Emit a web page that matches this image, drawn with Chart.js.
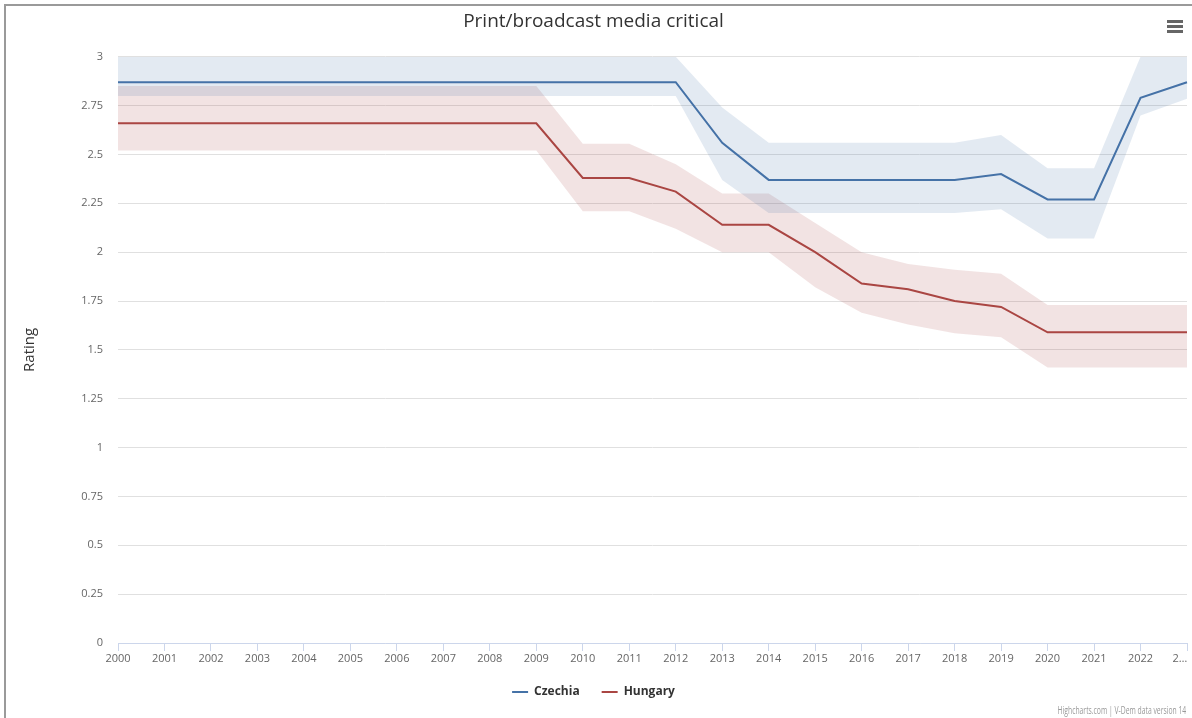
<!DOCTYPE html>
<html>
<head>
<meta charset="utf-8">
<script src="https://cdn.jsdelivr.net/npm/chart.js@4.4.1/dist/chart.umd.min.js"></script>
<style>
  html, body { margin: 0; padding: 0; background: #fff; }
  #wrap { position: relative; width: 1192px; height: 718px; overflow: hidden; font-family: "Open Sans", sans-serif; }
  #frame { position: absolute; left: 4px; top: 4px; right: -4px; bottom: -4px; border-left: 2px solid #9a9a9a; border-top: 2px solid #9a9a9a; }
  canvas { position: absolute; left: 0; top: 0; }
  #menu { position: absolute; left: 1167px; top: 20px; width: 16px; }
  #menu span { display: block; height: 3px; background: #666; margin-bottom: 2px; }
  #credits { position: absolute; right: 6px; top: 703px; font-size: 10px; color: #999; white-space: nowrap;
             transform: scaleX(0.68); transform-origin: right center; }
</style>
</head>
<body>
<div id="wrap">
  <div id="frame"></div>
  <canvas id="chart" width="1192" height="718"></canvas>
  <div id="menu"><span></span><span></span><span></span></div>
  <div id="credits">Highcharts.com | V-Dem data version 14</div>
</div>
<script>
// ---- data ----
const years = ['2000','2001','2002','2003','2004','2005','2006','2007','2008','2009','2010','2011',
               '2012','2013','2014','2015','2016','2017','2018','2019','2020','2021','2022','2023'];

const czechia     = [2.87,2.87,2.87,2.87,2.87,2.87,2.87,2.87,2.87,2.87,2.87,2.87,2.87,2.56,2.37,2.37,2.37,2.37,2.37,2.40,2.27,2.27,2.79,2.87];
const czechiaHigh = [3.00,3.00,3.00,3.00,3.00,3.00,3.00,3.00,3.00,3.00,3.00,3.00,3.00,2.74,2.56,2.56,2.56,2.56,2.56,2.60,2.43,2.43,3.00,3.00];
const czechiaLow  = [2.80,2.80,2.80,2.80,2.80,2.80,2.80,2.80,2.80,2.80,2.80,2.80,2.80,2.37,2.20,2.20,2.20,2.20,2.20,2.22,2.07,2.07,2.70,2.785];

const hungary     = [2.66,2.66,2.66,2.66,2.66,2.66,2.66,2.66,2.66,2.66,2.38,2.38,2.31,2.14,2.14,2.00,1.84,1.81,1.75,1.72,1.59,1.59,1.59,1.59];
const hungaryHigh = [2.85,2.85,2.85,2.85,2.85,2.85,2.85,2.85,2.85,2.85,2.555,2.555,2.45,2.30,2.30,2.15,2.00,1.94,1.91,1.89,1.73,1.73,1.73,1.73];
const hungaryLow  = [2.52,2.52,2.52,2.52,2.52,2.52,2.52,2.52,2.52,2.52,2.21,2.21,2.12,2.00,2.00,1.82,1.69,1.63,1.585,1.565,1.41,1.41,1.41,1.41];

const FONT = '"Open Sans", sans-serif';
const BLUE = '#4572A7', RED = '#AA4643';
const BLUE_BAND = 'rgba(69,114,167,0.15)', RED_BAND = 'rgba(170,70,67,0.15)';

function lineSet(label, data, color) {
  return { label, data, borderColor: color, backgroundColor: color, borderWidth: 2,
           pointRadius: 0, pointHoverRadius: 0, tension: 0, fill: false, order: 0 };
}
function bandSet(label, data, fill, color) {
  return { label, data, borderWidth: 0, borderColor: 'transparent', backgroundColor: color,
           pointRadius: 0, pointHoverRadius: 0, tension: 0, fill, order: 1 };
}

new Chart(document.getElementById('chart'), {
  type: 'line',
  data: {
    labels: years,
    datasets: [
      lineSet('Czechia', czechia, BLUE),
      lineSet('Hungary', hungary, RED),
      bandSet('cz-high', czechiaHigh, '+1', BLUE_BAND),
      bandSet('cz-low', czechiaLow, false, BLUE_BAND),
      bandSet('hu-high', hungaryHigh, '+1', RED_BAND),
      bandSet('hu-low', hungaryLow, false, RED_BAND)
    ]
  },
  options: {
    responsive: false,
    animation: false,
    layout: { padding: { left: 0, right: 5, top: 0, bottom: 10 } },
    plugins: {
      title: {
        display: true, text: 'Print/broadcast media critical', color: '#333',
        font: { family: FONT, size: 19, weight: 'normal' },
        padding: { top: 10, bottom: 24 }
      },
      legend: {
        position: 'bottom',
        labels: {
          filter: item => item.datasetIndex < 2,
          usePointStyle: true, pointStyle: 'line', pointStyleWidth: 16,
          color: '#333', font: { family: FONT, size: 12, weight: 'bold' }, padding: 22
        }
      },
      tooltip: { enabled: false }
    },
    scales: {
      x: {
        offset: false,
        grid: { display: true, drawOnChartArea: false, drawTicks: true, tickLength: 8, color: '#ccd6eb' },
        border: { display: true, color: '#ccd6eb', width: 1 },
        ticks: {
          autoSkip: false, maxRotation: 0, padding: 1, color: '#666',
          font: { family: FONT, size: 11 },
          // last label is truncated in the original; trailing spaces pull it inside the canvas
          callback: (v, i) => i === years.length - 1 ? '2…     ' : years[i]
        },
        afterFit: s => { s.height = 21; s.paddingRight = 0; }
      },
      y: {
        min: 0, max: 3,
        grid: { color: '#e0e0e0', drawTicks: false },
        border: { display: false },
        ticks: {
          stepSize: 0.25, padding: 15, color: '#666', font: { family: FONT, size: 11 },
          callback: v => String(Math.round(v * 100) / 100)
        },
        title: { display: true, text: 'Rating', color: '#333', font: { family: FONT, size: 15 }, padding: { top: 21, bottom: 0 } },
        afterFit: s => { s.width = 118; }
      }
    }
  }
});
</script>
</body>
</html>
